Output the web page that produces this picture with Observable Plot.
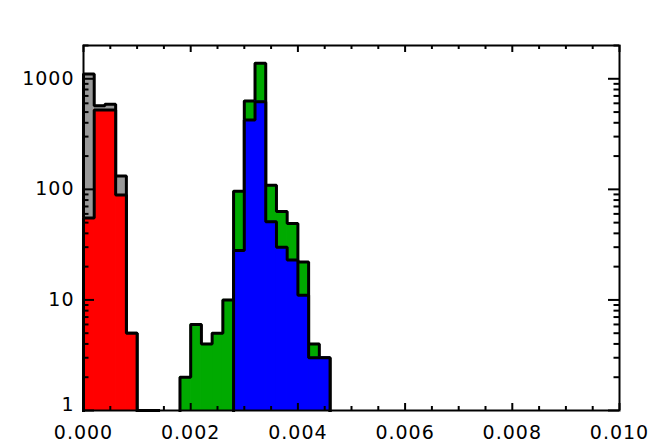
<!DOCTYPE html>
<html>
<head>
<meta charset="utf-8">
<script src="https://cdn.jsdelivr.net/npm/d3@7"></script>
<script src="https://cdn.jsdelivr.net/npm/@observablehq/plot@0.6"></script>
<style>
  html, body { margin: 0; padding: 0; background: #fff; }
  svg { display: block; }
</style>
</head>
<body>
<div id="chart"></div>
<script>
// ---- data (histogram counts, bin width 0.0002) ----
const binWidth = 0.0002;
const greyStart = 0.0000;
const greyCounts = [1105, 571, 588, 132, 5, 0, 1];
const redStart = 0.0000;
const redCounts = [55, 521, 521, 89, 5];
const greenStart = 0.0018;
const greenCounts = [2, 6, 4, 5, 10, 96, 630, 1381, 109, 63, 49, 22, 4, 3];
const blueStart = 0.0028;
const blueCounts = [28, 423, 621, 51, 30, 23, 11, 3, 3];

const xMajor = [0, 0.002, 0.004, 0.006, 0.008, 0.010];
const xMinor = [0.0005, 0.001, 0.0015, 0.0025, 0.003, 0.0035, 0.0045, 0.005, 0.0055,
                0.0065, 0.007, 0.0075, 0.0085, 0.009, 0.0095];
const yMajor = [1, 10, 100, 1000];
const yMinor = [2, 3, 4, 5, 6, 7, 8, 9, 20, 30, 40, 50, 60, 70, 80, 90,
                200, 300, 400, 500, 600, 700, 800, 900, 2000];
const yDomain = [1, 2000];
const xDomain = [0, 0.010];

// ---- helpers ----
function bins(start, counts) {
  return counts.map((v, i) => ({x1: start + i * binWidth, x2: start + (i + 1) * binWidth, v}))
               .filter(d => d.v > 1);
}
function outline(start, counts) {
  const pts = [];
  counts.forEach((v, i) => {
    const x0 = start + i * binWidth, x1 = x0 + binWidth, y = Math.max(v, 1);
    if (i === 0) pts.push({x: x0, y: 1});
    pts.push({x: x0, y}, {x: x1, y});
  });
  pts.push({x: start + counts.length * binWidth, y: 1});
  return pts;
}

const W = 668, H = 443;
const mL = 83, mR = 49, mT = 45, mB = 33;
const frameW = W - mL - mR, frameH = H - mT - mB;
const font = "DejaVu Sans";
const fs = 19;

function hist(start, counts, color) {
  return [
    Plot.rect(bins(start, counts), {x1: "x1", x2: "x2", y1: () => 1, y2: "v", fill: color,
      stroke: color, strokeWidth: 1}),
    Plot.line(outline(start, counts), {x: "x", y: "y", stroke: "black", strokeWidth: 3,
      strokeLinejoin: "miter", strokeLinecap: "square"})
  ];
}

const chart = Plot.plot({
  width: W, height: H,
  marginLeft: mL, marginRight: mR, marginTop: mT, marginBottom: mB,
  style: {fontFamily: font, fontSize: fs + "px", fontWeight: "normal", letterSpacing: "1px", background: "#fff"},
  x: {domain: xDomain, axis: null},
  y: {type: "log", domain: yDomain, axis: null},
  marks: [
    ...hist(greyStart, greyCounts, "#999999"),
    ...hist(redStart, redCounts, "#ff0000"),
    ...hist(greenStart, greenCounts, "#00aa00"),
    ...hist(blueStart, blueCounts, "#0000ff"),
    // x ticks (bottom & top, inward)
    Plot.ruleX(xMajor, {x: d => d, insetTop: frameH - 7, stroke: "black", strokeWidth: 2}),
    Plot.ruleX(xMajor, {x: d => d, insetBottom: frameH - 7, stroke: "black", strokeWidth: 2}),
    Plot.ruleX(xMinor, {x: d => d, insetTop: frameH - 4, stroke: "black", strokeWidth: 2}),
    Plot.ruleX(xMinor, {x: d => d, insetBottom: frameH - 4, stroke: "black", strokeWidth: 2}),
    // y ticks (left & right, inward)
    Plot.ruleY(yMajor, {y: d => d, insetRight: frameW - 11, stroke: "black", strokeWidth: 2}),
    Plot.ruleY(yMajor, {y: d => d, insetLeft: frameW - 11, stroke: "black", strokeWidth: 2}),
    Plot.ruleY(yMinor, {y: d => d, insetRight: frameW - 5.5, stroke: "black", strokeWidth: 2}),
    Plot.ruleY(yMinor, {y: d => d, insetLeft: frameW - 5.5, stroke: "black", strokeWidth: 2}),
    Plot.frame({stroke: "black", strokeWidth: 2}),
    // tick labels
    Plot.text(xMajor, {x: d => d, frameAnchor: "bottom", dy: 22, text: d => d.toFixed(3),
      fill: "black", fontSize: fs, lineAnchor: "middle"}),
    Plot.text(yMajor.filter(d => d > 1), {y: d => d, frameAnchor: "left", dx: -9, textAnchor: "end",
      text: d => String(d), fill: "black", fontSize: fs}),
    Plot.text(yMajor.filter(d => d === 1), {y: d => d, frameAnchor: "left", dx: -9, dy: -6, textAnchor: "end",
      text: d => String(d), fill: "black", fontSize: fs})
  ]
});
document.getElementById("chart").appendChild(chart);
</script>
</body>
</html>
